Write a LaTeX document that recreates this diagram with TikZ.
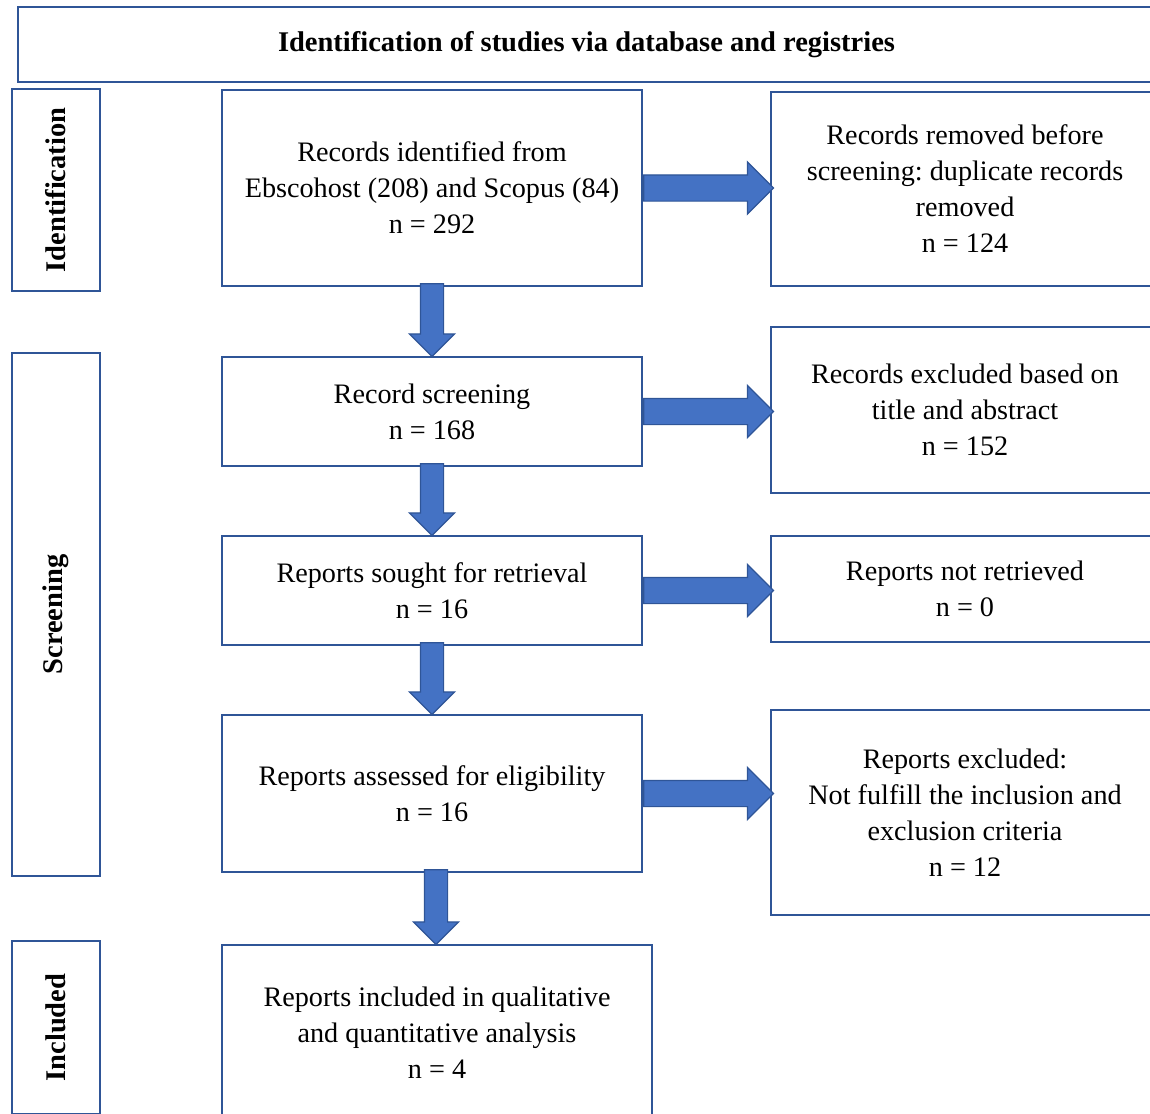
\documentclass[tikz,border=0pt]{standalone}
\usepackage{fontspec}
\setmainfont{Liberation Serif}
\usetikzlibrary{positioning,shapes.arrows,calc}

\definecolor{boxblue}{RGB}{47,85,151}
\definecolor{arrowblue}{RGB}{68,114,196}

\begin{document}
\frenchspacing
\begin{tikzpicture}[x=1pt,y=-1pt,
                    main box/.style={rectangle,draw=boxblue,line width=2.2pt,inner sep=0pt,align=center,font=\fontsize{28.2}{36}\selectfont},
                    side box/.style={main box,font=\fontsize{28.5}{30}\selectfont\bfseries},
                    block arrow/.style 2 args={to path={let \p1=($(\tikztotarget)-(\tikztostart)$) in
                        node[single arrow,draw=boxblue,fill=arrowblue,line width=1.2pt,inner sep=#1,single arrow head extend=#2,
                             minimum height={veclen(\x1,\y1)},rotate={atan2(\y1,\x1)},anchor=tail] at (\tikztostart) {}}}
                   ]
    \useasboundingbox (0,0) rectangle (1150,1113);
    \clip (0,0) rectangle (1150,1113);

    % heading and phases
    \node[side box,minimum width=1137,minimum height=75] (0) at (586.5,44.5) {Identification of studies via database and registries};
    \node[side box,rotate=90,minimum width=202,minimum height=88] (10) at (56,190) {Identification};
    \node[side box,rotate=90,minimum width=523,minimum height=88] (11) at (56,614.5) {Screening};
    \node[side box,rotate=90,minimum width=173,minimum height=88] (12) at (56,1027.5) {Included};

    % main flow
    \node[main box,minimum width=420,minimum height=196] (1) at (432,188) {Records identified from\\Ebscohost (208) and Scopus (84)\\n = 292};
    \node[main box,minimum width=420,minimum height=109] (2) at (432,411.5) {Record screening\\n = 168};
    \node[main box,minimum width=420,minimum height=109] (3) at (432,590.5) {Reports sought for retrieval\\n = 16};
    \node[main box,minimum width=420,minimum height=157] (4) at (432,793.5) {Reports assessed for eligibility\\n = 16};
    \node[main box,minimum width=430,minimum height=176] (5) at (437,1033) {Reports included in qualitative\\and quantitative analysis\\n = 4};

    % removed records
    \node[main box,minimum width=388,minimum height=194] (6) at (965,189) {Records removed before\\screening: duplicate records\\removed\\n = 124};
    \node[main box,minimum width=388,minimum height=166] (7) at (965,410) {Records excluded based on\\title and abstract\\n = 152};
    \node[main box,minimum width=388,minimum height=106] (8) at (965,589) {Reports not retrieved\\n = 0};
    \node[main box,minimum width=388,minimum height=205] (9) at (965,812.5) {Reports excluded:\\Not fulfill the inclusion and\\exclusion criteria\\n = 12};

    \path%
      ([yshift=4]1.south) edge [block arrow={11pt}{11pt}] (2.north)
      ([yshift=4]2.south) edge [block arrow={11pt}{11pt}] (3.north)
      ([yshift=4]3.south) edge [block arrow={11pt}{11pt}] (4.north)
      ([yshift=4,xshift=4]4.south) edge [block arrow={11pt}{11pt}] ([xshift=-1]5.north)
      (1.east) edge [block arrow={12.5pt}{13pt}] ([xshift=3]6.west |- 1.east)
      (2.east) edge [block arrow={12.5pt}{13pt}] ([xshift=3]7.west |- 2.east)
      (3.east) edge [block arrow={12.5pt}{13pt}] ([xshift=3]8.west |- 3.east)
      (4.east) edge [block arrow={12.5pt}{13pt}] ([xshift=3]9.west |- 4.east);
\end{tikzpicture}
\end{document}
